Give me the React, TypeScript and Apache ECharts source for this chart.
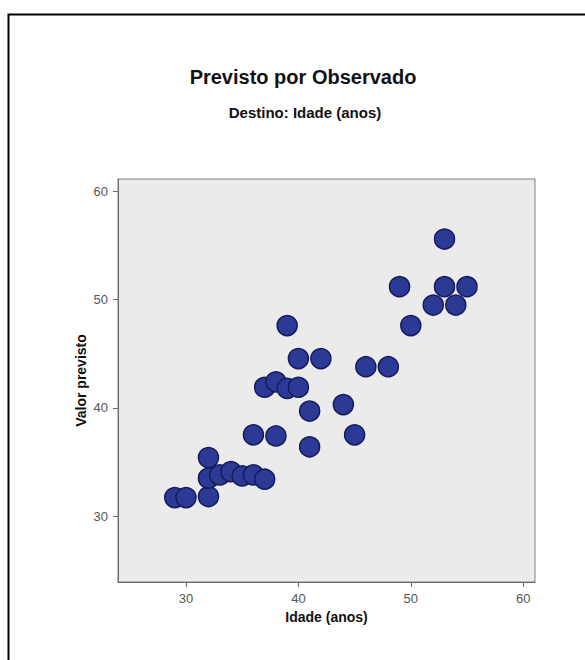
import React, { useEffect, useRef } from "react";
import * as echarts from "echarts";

// Observed age (years) and predicted value
const observed: number[] = [29, 30, 32, 32, 32, 33, 34, 35, 36, 37, 36, 38, 37, 38, 39, 40, 39, 40, 42, 41, 41, 44, 45, 46, 48, 49, 50, 52, 53, 53, 54, 55];
const predicted: number[] = [31.7, 31.7, 31.8, 33.5, 35.4, 33.8, 34.1, 33.7, 33.8, 33.4, 37.5, 37.4, 41.9, 42.4, 41.8, 41.9, 47.6, 44.55, 44.55, 39.7, 36.4, 40.3, 37.5, 43.8, 43.8, 51.2, 47.6, 49.5, 51.2, 55.6, 49.5, 51.2];
const tickValues: number[] = [30, 40, 50, 60];

const titleText = "Previsto por Observado";
const subtitleText = "Destino: Idade (anos)";
const xName = "Idade (anos)";
const yName = "Valor previsto";

const FONT = "'Liberation Sans', Arial, sans-serif";

export default function App() {
  const ref = useRef<HTMLDivElement>(null);
  useEffect(() => {
    if (!ref.current) return;
    const chart = echarts.init(ref.current, undefined, { renderer: "svg" });
    const points = observed.map((x, i) => [x, predicted[i]]);
    const axisCommon = {
      type: "value" as const,
      splitLine: { show: false },
      axisLine: { show: true, lineStyle: { color: "#6a6a6a", width: 1 } },
      axisTick: { show: true, length: 5, customValues: tickValues, lineStyle: { color: "#6a6a6a" } },
      axisLabel: { customValues: tickValues, color: "#555", fontSize: 13, fontFamily: FONT, margin: 10 },
      nameLocation: "middle" as const,
      nameMoveOverlap: false,
      nameTextStyle: { color: "#111", fontSize: 14, fontWeight: "bold" as const, fontFamily: FONT },
    };
    chart.setOption({
      animation: false,
      backgroundColor: "#ffffff",
      textStyle: { fontFamily: FONT },
      graphic: [
        {
          type: "rect",
          shape: { x: 8.5, y: 14.5, width: 640, height: 700 },
          style: { fill: "none", stroke: "#000", lineWidth: 2 },
          silent: true,
        },
        {
          type: "text",
          x: 303,
          y: 77,
          style: { text: titleText, fill: "#111", font: `bold 20px ${FONT}`, textAlign: "center", textVerticalAlign: "middle" },
        },
        {
          type: "text",
          x: 305,
          y: 112,
          style: { text: subtitleText, fill: "#111", font: `bold 15px ${FONT}`, textAlign: "center", textVerticalAlign: "middle" },
        },
      ],
      grid: {
        left: 118,
        top: 179,
        width: 417,
        height: 403,
        show: true,
        backgroundColor: "#ebebeb",
        borderColor: "#7f7f7f",
        borderWidth: 1,
        containLabel: false,
      },
      xAxis: { ...axisCommon, min: 23.95, max: 61.05, name: xName, nameGap: 28 },
      yAxis: { ...axisCommon, min: 23.9, max: 61.15, name: yName, nameGap: 30 },
      series: [
        {
          type: "scatter",
          data: points,
          symbol: "circle",
          symbolSize: 20,
          itemStyle: { color: "#2c3a96", borderColor: "#141a5c", borderWidth: 1.5, opacity: 1 },
        },
      ],
    });
    return () => chart.dispose();
  }, []);
  return <div ref={ref} style={{ position: "fixed", left: 0, top: 0, width: 585, height: 660 }} />;
}
